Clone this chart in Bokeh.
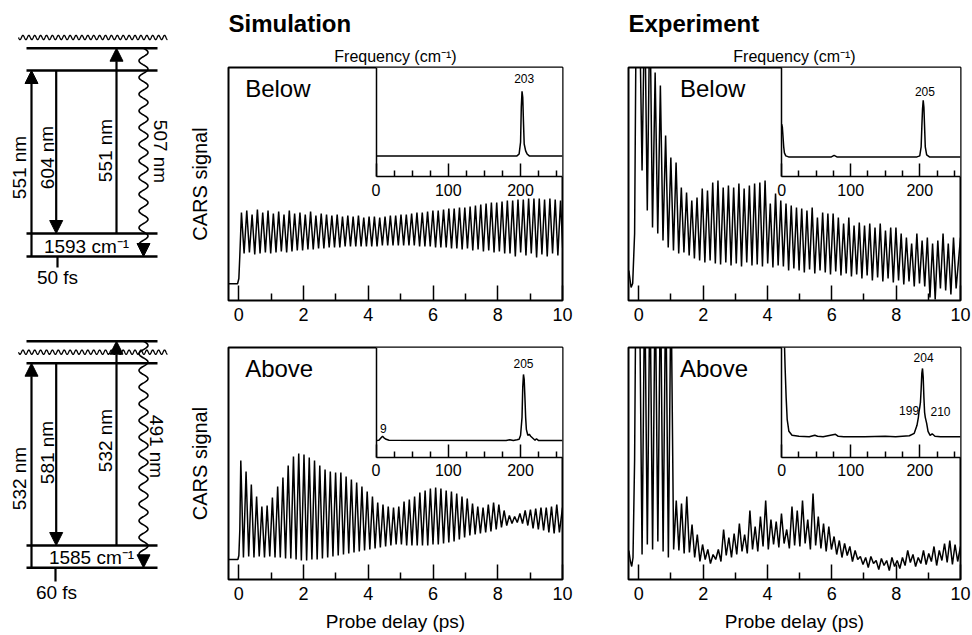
import numpy as np
from bokeh.plotting import figure
from bokeh.layouts import row, column
from bokeh.models import (Range1d, LinearAxis, FixedTicker, Arrow, NormalHead, Label, Title)
from bokeh.core.properties import value
from bokeh.embed import file_html
from bokeh.resources import INLINE

FONT = "Liberation Sans"
INK = "black"
C_CM_PER_PS = 0.0299792458  # speed of light in cm/ps

# ------------------------------------------------------------------ data
delay_ticks = [0, 2, 4, 6, 8, 10]
delay_minor_ticks = [1, 3, 5, 7, 9]
freq_ticks = [0, 100, 200]
freq_minor_ticks = [25, 50, 75, 125, 150, 175, 225, 250]

# --- Simulation, "Below" (oscillation at 203 cm-1)
sim_below_nu = 203
sim_below_t0 = 0.08
sim_below_pre_t = [-0.32, -0.04, 0.0, 0.03]
sim_below_pre_y = [16.7, 16.7, 22, 45]
sim_below_peaks = [88, 90, 86, 91, 88, 90, 87, 89, 86, 90,
                   87, 88, 86, 89, 85, 87, 86, 85, 86, 84,
                   85, 84, 85, 83, 84, 84, 83, 84, 85, 85,
                   86, 86, 87, 88, 88, 89, 90, 90, 91, 92,
                   92, 93, 93, 94, 95, 96, 97, 98, 98, 99,
                   100, 100, 101, 101, 102, 102, 102, 101, 102, 101, 100]
sim_below_troughs = [47, 48, 46, 47, 48, 47, 48, 49, 48, 49,
                     50, 50, 51, 51, 52, 52, 53, 53, 53, 54,
                     54, 54, 54, 54, 54, 54, 55, 55, 55, 55,
                     55, 55, 55, 54, 54, 54, 53, 53, 53, 52,
                     52, 51, 52, 50, 51, 49, 50, 48, 49, 47,
                     47, 44, 48, 45, 47, 43, 46, 44, 47, 45, 42]
sim_below_post_t = []
sim_below_post_y = []
sim_below_freq = [0, 195, 198, 200, 201, 202, 203, 204, 205, 207, 209, 212, 258]
sim_below_amp = [21, 21, 23, 35, 70, 86, 80, 55, 33, 26, 23, 21, 21]
sim_below_peak_text = ["203"]
sim_below_peak_freq = [205]
sim_below_peak_amp = [98.5]

# --- Simulation, "Above" (205 cm-1)
sim_above_nu = 205
sim_above_t0 = 0.06
sim_above_pre_t = [-0.32, -0.03, 0.0, 0.03]
sim_above_pre_y = [20, 20, 24, 50]
sim_above_peaks = [119, 108, 95, 83, 73, 74, 82, 93, 102, 114,
                   123, 126, 125, 122, 119, 114, 110, 108, 107, 107,
                   103, 100, 97, 93, 88, 83, 77, 75, 73, 72,
                   73, 78, 80, 83, 87, 89, 91, 92, 91, 89,
                   88, 86, 83, 81, 76, 73, 72, 75, 77, 75,
                   69, 64, 63, 66, 69, 70, 71, 72, 72, 73, 75]
sim_above_troughs = [22, 23, 22, 23, 22, 23, 22, 22, 21, 21,
                     20, 19, 19, 20, 20, 21, 22, 23, 24, 25,
                     26, 27, 28, 29, 30, 31, 32, 33, 34, 35,
                     35, 34, 34, 34, 34, 34, 35, 35, 36, 37,
                     38, 40, 42, 44, 45, 46, 47, 48, 50, 52,
                     54, 56, 57, 56, 54, 51, 50, 49, 47, 46, 47]
sim_above_post_t = [10.0]
sim_above_post_y = [72]
sim_above_freq = [0, 4, 7, 9, 11, 14, 18, 180, 185, 190, 195, 198, 200, 202, 203,
                  204, 205, 206, 207, 208, 210, 212, 214, 217, 220, 222, 225, 258]
sim_above_amp = [16.7, 17, 19.5, 21, 19.5, 18, 17, 16.7, 17.5, 16.7, 17.5, 18, 22, 40, 70,
                 83, 78, 60, 40, 28, 22, 23, 21, 19, 17, 18.5, 16.7, 16.7]
sim_above_peak_text = ["9", "205"]
sim_above_peak_freq = [10, 204]
sim_above_peak_amp = [29.2, 93.6]

# --- Experiment, "Below" (205 cm-1)
exp_below_nu = 205
exp_below_t0 = 0.02
exp_below_pre_t = [-0.31, -0.24, -0.19, -0.13, -0.08]
exp_below_pre_y = [30, 13, 17, 67, 300]
exp_below_peaks = [300, 300, 300, 228, 215, 165, 143, 138, 113, 108,
                   100, 103, 112, 110, 118, 120, 113, 115, 113, 117,
                   112, 115, 117, 118, 120, 97, 107, 100, 97, 95,
                   93, 92, 90, 93, 83, 88, 87, 87, 83, 77,
                   83, 75, 78, 75, 77, 73, 77, 70, 73, 73,
                   67, 63, 57, 67, 60, 63, 57, 60, 67, 57, 63]
exp_below_troughs = [130, 90, 73, 67, 60, 53, 50, 47, 48, 45,
                     42, 40, 38, 40, 37, 36, 38, 35, 37, 34,
                     38, 35, 36, 34, 37, 33, 35, 34, 30, 32,
                     30, 28, 31, 27, 30, 28, 26, 29, 25, 27,
                     24, 26, 22, 25, 20, 23, 19, 22, 18, 20,
                     16, 19, 14, 17, 14, 3, 1, 12, 10, 6, 12]
exp_below_post_t = [10.0]
exp_below_post_y = [63]
exp_below_freq = [0, 1, 2, 3, 4, 6, 10, 72, 76, 80, 196, 200, 202, 203, 204, 205, 206,
                  207, 208, 210, 214, 259]
exp_below_amp = [53, 50, 40, 30, 24, 21, 20, 20, 21.5, 20, 20, 21, 30, 50, 68, 77, 70,
                 50, 30, 22, 20, 20]
exp_below_peak_text = ["205"]
exp_below_peak_freq = [207.5]
exp_below_peak_amp = [85.9]

# --- Experiment, "Above" (204 cm-1)
exp_above_nu = 204
exp_above_t0 = 0.02
exp_above_pre_t = [-0.31, -0.26, -0.22, -0.18, -0.13, -0.09]
exp_above_pre_y = [29, 18, 13, 22, 120, 300]
exp_above_peaks = [300, 300, 300, 300, 300, 300, 300, 79, 76, 83,
                   55, 45, 35, 30, 25, 30, 50, 42, 46, 56,
                   45, 69, 53, 63, 79, 60, 58, 66, 50, 73,
                   69, 79, 60, 86, 63, 56, 53, 43, 39, 36,
                   33, 29, 23, 22, 23, 19, 21, 19, 22, 19,
                   22, 29, 25, 22, 29, 26, 33, 29, 36, 39, 35]
exp_above_troughs = [25, 35, 30, 38, 28, 22, 30, 29, 26, 27,
                     22, 18, 20, 16, 20, 18, 24, 22, 25, 28,
                     26, 30, 28, 33, 30, 35, 32, 36, 31, 34,
                     33, 36, 30, 34, 31, 28, 30, 25, 22, 24,
                     18, 20, 15, 12, 16, 10, 14, 9, 13, 11,
                     14, 17, 13, 16, 15, 18, 14, 19, 17, 15, 18]
exp_above_post_t = [10.0]
exp_above_post_y = [33]
exp_above_freq = [0, 3, 5, 6.5, 8, 10.5, 15, 25, 40, 48, 52, 60, 78, 82, 90, 120, 150, 165,
                  185, 192, 196, 198, 199, 200, 201, 202, 203, 204, 205, 206, 207, 208, 209,
                  210, 212, 215, 218, 222, 230, 259]
exp_above_amp = [150, 140, 90, 60, 38, 26, 22, 21, 20.5, 22, 21, 20.5, 23, 21, 20.5, 20.5, 21,
                 20.5, 21.5, 24, 32, 40, 46, 50, 55, 68, 84, 89, 80, 60, 45, 40, 37, 34, 26,
                 22, 23.5, 21, 20.5, 20.5]
exp_above_peak_text = ["204", "199", "210"]
exp_above_peak_freq = [205.5, 184.5, 230]
exp_above_peak_amp = [99.8, 46.5, 45.5]

for pk, tr in [(sim_below_peaks, sim_below_troughs), (sim_above_peaks, sim_above_troughs),
               (exp_below_peaks, exp_below_troughs), (exp_above_peaks, exp_above_troughs)]:
    assert len(pk) == 61 and len(tr) == 61, (len(pk), len(tr))

# ------------------------------------------------------------------ helpers


def trace(pre_t, pre_y, t0, nu, peaks, troughs, post_t, post_y):
    half = 0.5 / (C_CM_PER_PS * nu)
    t, y = list(pre_t), list(pre_y)
    for k, (pk, tr) in enumerate(zip(peaks, troughs)):
        t += [t0 + 2 * k * half, t0 + (2 * k + 1) * half]
        y += [pk, tr]
    return t + list(post_t), y + list(post_y)


def panel(top, sim, t, y, freq, amp, fmax, ptext, pfreq, pamp, title, tag, tag_t):
    fh = 233 if top else 232
    height = 330 if top else 305
    mbt = 67 if top else 17
    mbb = 30 if top else 56
    if sim:
        width, mbl, mbr, fx0, foff = 415, 43, 38, 0.4417, 73.7
    else:
        width, mbl, mbr, fx0, foff = 372, 28, 12, 0.4613, 76.6
    fy0 = 0.531 if top else 0.527
    ih = 110.0

    p = figure(width=width, height=height, x_range=Range1d(-0.32, 10.0),
               y_range=Range1d(0, fh), output_backend="svg", toolbar_location=None,
               min_border_left=mbl, min_border_right=mbr, min_border_top=mbt,
               min_border_bottom=mbb, x_axis_location="below",
               y_axis_location="left" if sim else None)
    p.outline_line_color = INK
    p.outline_line_width = 2
    p.xgrid.visible = False
    p.ygrid.visible = False
    p.background_fill_color = "white"
    p.border_fill_color = "white"

    xa = p.xaxis[0]
    xa.ticker = FixedTicker(ticks=delay_ticks, minor_ticks=delay_minor_ticks)
    xa.major_tick_in = 15
    xa.major_tick_out = 0
    xa.minor_tick_in = 7
    xa.minor_tick_out = 0
    xa.major_tick_line_width = 1.5
    xa.minor_tick_line_width = 1.5
    xa.major_tick_line_color = INK
    xa.minor_tick_line_color = INK
    xa.axis_line_color = None
    xa.major_label_text_font = FONT
    xa.major_label_text_font_size = "18px"
    xa.major_label_text_color = INK
    xa.major_label_standoff = 7
    if not top:
        xa.axis_label = "Probe delay (ps)"
        xa.axis_label_text_font = FONT
        xa.axis_label_text_font_size = "19px"
        xa.axis_label_text_font_style = "normal"
        xa.axis_label_text_color = INK
        xa.axis_label_standoff = 8
    if sim:
        ya = p.yaxis[0]
        ya.ticker = FixedTicker(ticks=[])
        ya.axis_line_color = None
        ya.major_tick_line_color = None
        ya.minor_tick_line_color = None
        ya.major_tick_out = 0
        ya.major_tick_in = 0
        ya.axis_label = "CARS signal"
        ya.axis_label_text_font = FONT
        ya.axis_label_text_font_size = "20px"
        ya.axis_label_text_font_style = "normal"
        ya.axis_label_text_color = INK
        ya.axis_label_standoff = 18

    # main trace
    p.line(t, y, line_color=INK, line_width=1.5)

    # inset
    p.extra_x_ranges = {"fx": Range1d(-fx0 / (1 - fx0) * fmax, fmax)}
    p.extra_y_ranges = {"fy": Range1d(-fy0 / (1 - fy0) * ih, ih)}
    p.quad(left=[0], right=[fmax], bottom=[0], top=[ih], x_range_name="fx",
           y_range_name="fy", fill_color="white", line_color=None)
    p.line(freq, amp, x_range_name="fx", y_range_name="fy", line_color=INK,
           line_width=1.5)
    p.text(x=pfreq, y=pamp, text=ptext, x_range_name="fx", y_range_name="fy",
           text_font=value(FONT), text_font_size=value("12px"),
           text_align=value("center"), text_baseline=value("middle"),
           text_color=INK)
    bx = LinearAxis(x_range_name="fx", y_range_name="fy", fixed_location=0,
                    bounds=(0, fmax),
                    ticker=FixedTicker(ticks=freq_ticks, minor_ticks=freq_minor_ticks),
                    major_tick_in=13, major_tick_out=0, minor_tick_in=6, minor_tick_out=0,
                    axis_line_width=1.5, major_tick_line_width=1.5,
                    minor_tick_line_width=1.5, axis_line_color=INK,
                    major_tick_line_color=INK, minor_tick_line_color=INK,
                    major_label_text_font=FONT, major_label_text_color=INK,
                    major_label_text_font_size="16px", major_label_standoff=7)
    p.add_layout(bx, "below")
    lx = LinearAxis(x_range_name="fx", y_range_name="fy", fixed_location=0,
                    bounds=(0, ih), ticker=FixedTicker(ticks=[]),
                    major_tick_line_color=None, minor_tick_line_color=None,
                    axis_line_width=1.5, axis_line_color=INK)
    p.add_layout(lx, "left")

    if top:
        p.add_layout(Title(text="Frequency (cm\u207b\u00b9)", align="center", offset=foff,
                           text_font=FONT, text_font_size="16px", text_color=INK,
                           text_font_style="normal", standoff=6), "above")
        p.title.text = title
        p.title.align = "left"
        p.title.text_font = FONT
        p.title.text_font_size = "24px"
        p.title.text_font_style = "bold"
        p.title.text_color = INK
        p.title.standoff = 11
    p.add_layout(Label(x=tag_t, y=fh - 20.5, text=tag, text_font=FONT,
                       text_font_size="24px", text_align="left", text_color=INK,
                       text_baseline="middle"))
    return p


# ------------------------------------------------------------------ panels
sb_t, sb_y = trace(sim_below_pre_t, sim_below_pre_y, sim_below_t0, sim_below_nu,
                   sim_below_peaks, sim_below_troughs, sim_below_post_t, sim_below_post_y)
sa_t, sa_y = trace(sim_above_pre_t, sim_above_pre_y, sim_above_t0, sim_above_nu,
                   sim_above_peaks, sim_above_troughs, sim_above_post_t, sim_above_post_y)
eb_t, eb_y = trace(exp_below_pre_t, exp_below_pre_y, exp_below_t0, exp_below_nu,
                   exp_below_peaks, exp_below_troughs, exp_below_post_t, exp_below_post_y)
ea_t, ea_y = trace(exp_above_pre_t, exp_above_pre_y, exp_above_t0, exp_above_nu,
                   exp_above_peaks, exp_above_troughs, exp_above_post_t, exp_above_post_y)

p_sb = panel(True, True, sb_t, sb_y, sim_below_freq, sim_below_amp, 258,
             sim_below_peak_text, sim_below_peak_freq, sim_below_peak_amp,
             "Simulation", "Below", 0.195)
p_sa = panel(False, True, sa_t, sa_y, sim_above_freq, sim_above_amp, 258,
             sim_above_peak_text, sim_above_peak_freq, sim_above_peak_amp,
             "", "Above", 0.195)
p_eb = panel(True, False, eb_t, eb_y, exp_below_freq, exp_below_amp, 259,
             exp_below_peak_text, exp_below_peak_freq, exp_below_peak_amp,
             "Experiment", "Below", 1.28)
p_ea = panel(False, False, ea_t, ea_y, exp_above_freq, exp_above_amp, 259,
             exp_above_peak_text, exp_above_peak_freq, exp_above_peak_amp,
             "", "Above", 1.28)

# ------------------------------------------------------------------ level diagrams
diagram_level_span = [26, 157]
diagram_wave_span = [18, 167]
diagrams = [
    dict(levels=[47.7, 70, 233, 256], wave_y=37,
         pump=(31, 256, 70), stokes=(55.7, 70, 233), probe=(116, 233, 47.7),
         cars=(143, 47.7, 256),
         labels=[("551 nm", 19, 167, 90), ("604 nm", 46.5, 157, 90),
                 ("551 nm", 104.5, 150, 90), ("507 nm", 160, 151, -90)],
         shift=("1593 cm\u207b\u00b9", 86, 245.5), pulse=("50 fs", 57, 277),
         pulse_tick=(57, 256, 267)),
    dict(levels=[340.7, 362.7, 545, 567.3], wave_y=351.7,
         pump=(31, 567.3, 362.7), stokes=(55.7, 362.7, 545), probe=(116, 545, 340.7),
         cars=(143, 340.7, 567.3),
         labels=[("532 nm", 19, 478, 90), ("581 nm", 46.5, 452, 90),
                 ("532 nm", 104.5, 440, 90), ("491 nm", 156, 446, -90)],
         shift=("1585 cm\u207b\u00b9", 91, 557), pulse=("60 fs", 56, 591.5),
         pulse_tick=(55, 567.3, 581)),
]

dg = figure(width=185, height=635, x_range=Range1d(0, 185), y_range=Range1d(635, 0),
            output_backend="svg", toolbar_location=None, min_border=0,
            x_axis_location=None, y_axis_location=None)
dg.outline_line_color = None
dg.xgrid.visible = False
dg.ygrid.visible = False


def head():
    return NormalHead(size=13, fill_color=INK, line_color=INK, line_width=1)


for d in diagrams:
    n = len(d["levels"])
    dg.segment(x0=[diagram_level_span[0]] * n, x1=[diagram_level_span[1]] * n,
               y0=d["levels"], y1=d["levels"], line_color=INK, line_width=2.6)
    wx = np.linspace(diagram_wave_span[0], diagram_wave_span[1], 400)
    wy = d["wave_y"] + 2.2 * np.sin(2 * np.pi * (wx - wx[0]) / 5.9)
    dg.line(wx, wy, line_color=INK, line_width=1.3)
    for key in ("pump", "stokes", "probe"):
        x, y0, y1 = d[key]
        dg.add_layout(Arrow(end=head(), x_start=x, y_start=y0, x_end=x, y_end=y1,
                            line_color=INK, line_width=2.2))
    x, y0, y1 = d["cars"]
    vy = np.linspace(y0, y1 - 12, 300)
    vx = x + 4.5 * np.sin(2 * np.pi * (vy - y0) / 16.7)
    dg.line(vx, vy, line_color=INK, line_width=1.6)
    dg.add_layout(Arrow(end=head(), x_start=x, y_start=y1 - 13, x_end=x, y_end=y1,
                        line_color=INK, line_width=1.6))
    dg.text(x=[l[1] for l in d["labels"]], y=[l[2] for l in d["labels"]],
            text=[l[0] for l in d["labels"]],
            angle=[np.deg2rad(l[3]) for l in d["labels"]],
            text_font=value(FONT), text_font_size=value("19px"),
            text_align=value("center"), text_baseline=value("middle"), text_color=INK)
    s, sx, sy = d["shift"]
    f, fxp, fyp = d["pulse"]
    dg.text(x=[sx, fxp], y=[sy, fyp], text=[s, f], text_font=value(FONT),
            text_font_size=value("19px"), text_align=value("center"),
            text_baseline=value("middle"), text_color=INK)
    tx, ty0, ty1 = d["pulse_tick"]
    dg.segment(x0=[tx], x1=[tx], y0=[ty0], y1=[ty1], line_color=INK, line_width=2.2)

layout = row(dg, column(p_sb, p_sa), column(p_eb, p_ea))
open("out.html", "w").write(file_html(layout, INLINE))
